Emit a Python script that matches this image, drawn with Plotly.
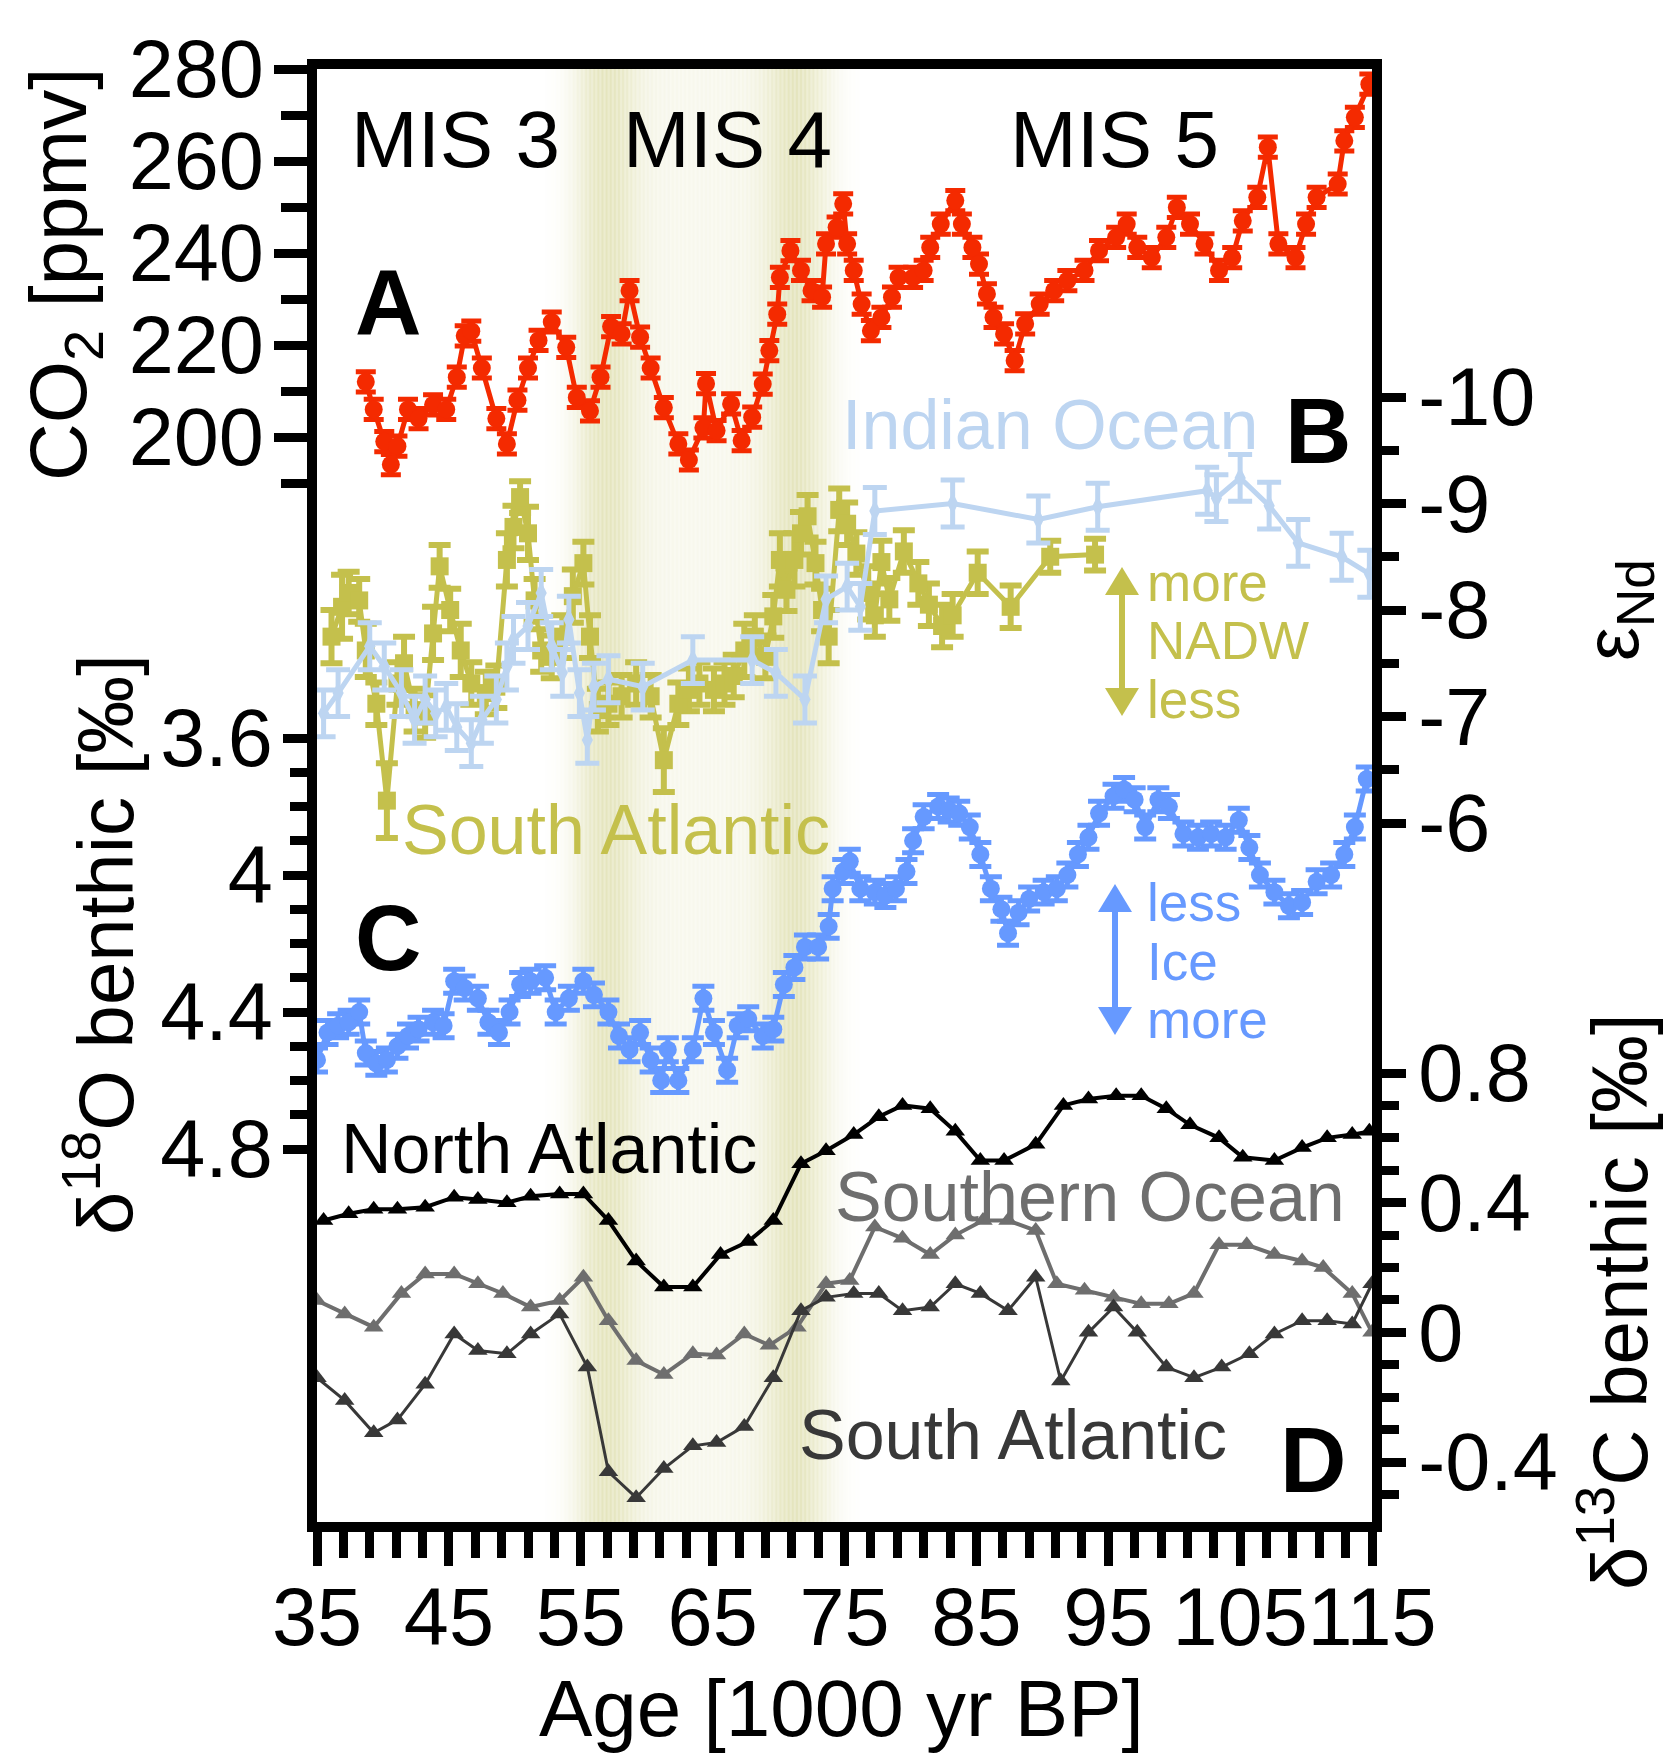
import plotly.graph_objects as go
import numpy as np

W, H = 1667, 1754

# ---------------- data ----------------
age_ticks = [35, 45, 55, 65, 75, 85, 95, 105, 115]

co2_age = [38.7, 39.3, 40.1, 40.6, 41.1, 41.9, 42.7, 43.8, 44.8, 45.6, 46.2, 46.7, 47.5, 48.6, 49.4,
           50.2, 51.0, 51.8, 52.8, 53.9, 54.7, 55.7, 56.5, 57.3, 58.1, 58.7, 59.5, 60.3, 61.3, 62.4,
           63.2, 64.3, 64.5, 65.3, 66.4, 67.2, 68.0, 68.8, 69.3, 69.9, 70.1, 70.9, 71.7, 72.5, 73.3,
           73.6, 74.4, 74.9, 75.2, 75.7, 76.3, 77.0, 77.8, 78.6, 79.1, 80.2, 81.0, 81.5, 82.3, 83.4,
           83.9, 84.7, 85.2, 85.8, 86.3, 87.1, 87.9, 88.7, 89.8, 90.9, 91.9, 93.2, 94.3, 95.6, 96.4,
           97.2, 98.3, 99.4, 100.2, 101.2, 102.3, 103.4, 104.4, 105.2, 106.3, 107.1, 107.9, 109.2,
           110.0, 110.8, 112.4, 112.9, 113.7, 114.8]
co2_ppmv = [212, 206, 199, 194, 198, 206, 204, 207, 206, 213, 222, 223, 215, 204, 198.5,
            208, 215, 221, 225, 219.5, 208.6, 205.7, 213, 224, 222.4, 231.8, 221.7, 215, 206.4, 198.5,
            195, 202, 211.6, 201.4, 207.2, 199.2, 204.3, 211.5, 218.8, 226.7, 234.7, 240.5, 236.2, 231.8, 230.4,
            242, 245.6, 250.7, 242, 236.2, 228.9, 223.1, 226, 230.4, 234.7, 234.7, 236.2, 241.2, 246.3, 251.4,
            246.3, 241.2, 237.6, 231.1, 226, 222.4, 216.6, 224.6, 228.9, 231.8, 234, 236.2, 240.5, 243.4, 246.3,
            241.2, 239, 243.4, 249.9, 246.3, 242, 236.2, 239, 247, 252.1, 263, 242, 239,
            246.3, 252.1, 255, 264.4, 269.5, 276.7]
co2_err = 2.2

nd_satl_age = [36.1, 36.9, 37.4, 38.2, 38.7, 39.5, 40.3, 41.1, 41.6, 42.4, 43.2, 43.8, 44.3, 45.1, 45.9,
               46.7, 47.8, 48.6, 49.4, 49.9, 50.4, 51.0, 51.5, 52.0, 52.8, 53.6, 54.4, 55.2, 55.7, 56.3,
               57.1, 58.1, 59.2, 60.3, 61.3, 62.4, 63.2, 64.0, 65.1, 65.9, 66.6, 67.4, 68.2, 69.0, 69.6,
               70.1, 70.6, 71.2, 71.7, 72.2, 72.8, 73.3, 73.8, 74.6, 75.2, 75.9, 76.8, 77.3, 77.8, 78.4,
               79.5, 80.6, 81.4, 82.4, 83.2, 85.1, 87.6, 90.6, 94.0]
nd_satl = [-7.75, -8.03, -8.16, -8.09, -7.62, -7.12, -6.21, -7.31, -7.50, -7.06,
           -7.00, -7.78, -8.41, -8.00, -7.62, -7.31, -7.22, -7.28, -8.47, -8.78,
           -9.06, -8.72, -8.09, -7.62, -7.56, -7.75, -8.13, -8.44, -7.75, -7.06,
           -7.12, -7.19, -7.31, -7.19, -6.59, -7.12, -7.25, -7.31, -7.25, -7.31,
           -7.38, -7.62, -7.75, -7.56, -7.94, -8.47, -8.19, -8.47, -8.72, -8.88,
           -8.44, -8.00, -7.75, -8.94, -8.81, -8.53, -8.16, -7.95, -8.45, -8.10,
           -8.55, -8.25, -8.05, -7.85, -7.95, -8.35, -8.03, -8.50, -8.52]
nd_satl_err = [0.25, 0.3, 0.2, 0.2, 0.25, 0.2, 0.35, 0.2, 0.25, 0.2,
               0.2, 0.25, 0.2, 0.2, 0.25, 0.2, 0.2, 0.2, 0.25, 0.2,
               0.15, 0.25, 0.2, 0.2, 0.2, 0.2, 0.25, 0.2, 0.2, 0.2,
               0.2, 0.2, 0.2, 0.2, 0.3, 0.2, 0.2, 0.2, 0.2, 0.2,
               0.2, 0.25, 0.2, 0.2, 0.2, 0.25, 0.2, 0.25, 0.2, 0.2,
               0.2, 0.2, 0.25, 0.2, 0.2, 0.2, 0.25, 0.2, 0.2, 0.2,
               0.2, 0.2, 0.2, 0.2, 0.2, 0.2, 0.2, 0.15, 0.15]

nd_ind_age = [35.5, 36.6, 39.0, 40.1, 41.4, 42.4, 43.2, 44.0, 44.8, 45.6, 46.7, 47.5, 48.6, 49.4, 49.9,
              51.0, 52.0, 52.8, 53.6, 54.1, 54.9, 55.5, 56.0, 57.1, 59.7, 63.5, 68.0, 69.8, 72.0, 73.6,
              75.2, 76.2, 77.3, 83.2, 89.7, 94.2, 102.5, 103.2, 105.0, 107.2, 109.4, 112.7, 114.8]
nd_ind = [-7.03, -7.22, -7.66, -7.47, -7.22, -6.97, -7.16, -7.03, -7.09, -6.90, -6.75, -6.97, -7.16, -7.47, -7.72,
          -7.85, -8.16, -7.66, -7.41, -7.91, -7.22, -6.78, -7.28, -7.35, -7.28, -7.53, -7.53, -7.41, -7.16, -8.10,
          -8.22, -8.03, -8.93, -9.00, -8.85, -8.97, -9.12, -9.05, -9.24, -8.98, -8.63, -8.50, -8.34]
nd_ind_err = 0.22

d18o_age = [35.0, 35.8, 36.6, 37.4, 38.2, 38.7, 39.5, 40.3, 41.1, 41.9, 42.7, 43.8, 44.6, 45.4, 46.2,
            47.2, 48.0, 48.8, 49.6, 50.4, 51.2, 52.3, 53.1, 54.1, 55.2, 56.0, 57.1, 57.9, 58.7, 59.5,
            60.3, 61.1, 61.6, 62.4, 63.5, 64.3, 65.1, 66.1, 66.9, 67.7, 68.8, 69.6, 70.4, 71.2, 72.0,
            73.0, 73.8, 74.1, 74.9, 75.4, 76.2, 77.3, 78.1, 78.9, 79.7, 80.2, 81.0, 82.1, 82.9, 83.7,
            84.5, 85.3, 86.1, 86.9, 87.4, 88.2, 89.0, 90.1, 91.1, 91.9, 92.7, 93.5, 94.3, 95.4, 96.2,
            97.0, 97.8, 98.8, 99.6, 100.7, 101.8, 102.8, 103.9, 104.9, 105.7, 106.5, 107.6, 108.7, 109.7,
            110.8, 111.9, 112.9, 113.7, 114.6]
d18o = [4.54, 4.46, 4.44, 4.43, 4.40, 4.52, 4.55, 4.54, 4.50, 4.47, 4.45, 4.43, 4.44, 4.31, 4.33,
        4.36, 4.43, 4.46, 4.40, 4.32, 4.31, 4.30, 4.40, 4.36, 4.31, 4.35, 4.40, 4.47, 4.51, 4.46,
        4.54, 4.60, 4.51, 4.60, 4.51, 4.36, 4.46, 4.57, 4.44, 4.42, 4.47, 4.45, 4.32, 4.27, 4.21,
        4.21, 4.15, 4.04, 3.99, 3.96, 4.04, 4.05, 4.06, 4.04, 3.99, 3.90, 3.83, 3.80, 3.81, 3.82,
        3.86, 3.94, 4.04, 4.10, 4.17, 4.11, 4.07, 4.05, 4.04, 4.00, 3.94, 3.89, 3.82, 3.77, 3.75,
        3.78, 3.86, 3.78, 3.80, 3.88, 3.89, 3.88, 3.89, 3.84, 3.92, 4.00, 4.05, 4.09, 4.08,
        4.02, 4.00, 3.94, 3.86, 3.72]
d18o_err = 0.035

d13c_natl_age = [35.5, 37.4, 39.3, 41.1, 43.2, 45.4, 47.2, 49.4, 51.2, 53.4, 55.2, 57.1, 59.2, 61.3, 63.5,
                 65.6, 67.7, 69.6, 71.7, 73.6, 75.7, 77.6, 79.4, 81.5, 83.4, 85.3, 87.1, 89.5, 91.6, 93.5,
                 95.6, 97.5, 99.4, 101.2, 103.4, 105.2, 107.6, 109.7, 111.6, 113.5, 114.8]
d13c_natl = [0.345, 0.366, 0.38, 0.38, 0.386, 0.417, 0.41, 0.40, 0.42, 0.427, 0.427, 0.345, 0.22, 0.14, 0.14,
             0.24, 0.28, 0.345, 0.52, 0.56, 0.61, 0.665, 0.70, 0.69, 0.62, 0.53, 0.53, 0.58, 0.70, 0.72,
             0.73, 0.73, 0.69, 0.64, 0.60, 0.54, 0.53, 0.57, 0.60, 0.61, 0.62]

d13c_so_age = [35.0, 37.1, 39.3, 41.4, 43.2, 45.4, 47.2, 49.1, 51.2, 53.4, 55.2, 57.1, 59.2, 61.3, 63.5,
               65.3, 67.4, 69.3, 71.4, 73.6, 75.4, 77.3, 79.4, 81.5, 83.4, 85.5, 87.4, 89.5, 91.1, 93.2,
               95.4, 97.5, 99.6, 101.5, 103.4, 105.5, 107.6, 109.7, 111.3, 113.5, 115.0]
d13c_so = [0.098, 0.057, 0.016, 0.12, 0.18, 0.18, 0.15, 0.12, 0.078, 0.098, 0.17, 0.036, -0.087, -0.13, -0.066,
           -0.07, -0.005, -0.04, 0.016, 0.15, 0.16, 0.325, 0.29, 0.24, 0.30, 0.345, 0.345, 0.314, 0.15, 0.13,
           0.108, 0.088, 0.088, 0.12, 0.27, 0.27, 0.24, 0.22, 0.20, 0.12, 0.0]

d13c_satl_age = [35.0, 37.1, 39.3, 41.1, 43.2, 45.4, 47.2, 49.4, 51.2, 53.4, 55.5, 57.1, 59.2, 61.3, 63.5,
                 65.3, 67.4, 69.6, 71.7, 73.6, 75.7, 77.6, 79.4, 81.5, 83.4, 85.3, 87.4, 89.5, 91.4, 93.5,
                 95.4, 97.2, 99.4, 101.5, 103.6, 105.7, 107.6, 109.7, 111.6, 113.5, 115.0]
d13c_satl = [-0.14, -0.21, -0.31, -0.27, -0.16, -0.005, -0.056, -0.066, -0.005, 0.057, -0.107, -0.43, -0.51, -0.42, -0.35,
             -0.34, -0.29, -0.14, 0.067, 0.108, 0.12, 0.12, 0.067, 0.078, 0.15, 0.12, 0.067, 0.17, -0.15, 0.0,
             0.078, 0.0, -0.107, -0.14, -0.107, -0.066, -0.005, 0.036, 0.036, 0.026, 0.15]

co2_ticks = [200, 220, 240, 260, 280]
co2_minor = [190, 210, 230, 250, 270]
nd_ticks = [-10, -9, -8, -7, -6]
nd_minor = [-9.5, -8.5, -7.5, -6.5]
o18_ticks = [3.6, 4.0, 4.4, 4.8]
o18_labels = ["3.6", "4", "4.4", "4.8"]
o18_minor = [3.7, 3.8, 3.9, 4.1, 4.2, 4.3, 4.5, 4.6, 4.7]
c13_ticks = [-0.4, 0, 0.4, 0.8]
c13_labels = ["-0.4", "0", "0.4", "0.8"]
c13_minor = [-0.5, -0.3, -0.2, -0.1, 0.1, 0.2, 0.3, 0.5, 0.6, 0.7]

# ---------------- geometry helpers ----------------
def px(x):
    return x / W

def py(y):
    return 1 - y / H

X0, X1 = 317, 1372      # plot frame, pixels
Y0, Y1 = 69, 1522

def yrange(v_ref, p_ref, ppu):
    return [v_ref + (p_ref - Y1) / ppu, v_ref + (p_ref - Y0) / ppu]

FONT = "Liberation Sans, Arial, Helvetica, sans-serif"
RED = "#f42a00"
OLIVE = "#c4c04c"
LBLUE = "#bdd5f1"
BLUE = "#6699ff"
GRAY = "#6e6e6e"
DGRAY = "#383838"

fig = go.Figure()

# MIS 4 shading (soft gradient built from thin slices)
edges = np.arange(52.0, 78.0, 0.1)
for a in edges:
    c = a + 0.05
    g1 = np.exp(-((c - 57.0) / 2.3) ** 2)
    g2 = np.exp(-((c - 71.2) / 2.3) ** 2)
    base = 0.28 / (1 + np.exp(-(c - 55.0) * 1.5)) / (1 + np.exp((c - 74.0) * 1.5))
    it = min(1.0, max(g1, g2) + base * (1 - max(g1, g2)))
    if it < 0.02:
        continue
    r = int(round(255 - (255 - 229) * it))
    g = int(round(255 - (255 - 229) * it))
    b = int(round(255 - (255 - 190) * it))
    fig.add_shape(type="rect", xref="x", yref="paper", x0=a, x1=a + 0.1,
                  y0=py(Y1), y1=py(Y0), fillcolor=f"rgb({r},{g},{b})",
                  line=dict(width=0), layer="below")

# traces
fig.add_trace(go.Scatter(
    x=co2_age, y=co2_ppmv, mode="lines+markers", yaxis="y",
    line=dict(color=RED, width=5), marker=dict(color=RED, size=18, symbol="circle"),
    error_y=dict(type="constant", value=co2_err, color=RED, thickness=5, width=10),
    showlegend=False))

fig.add_trace(go.Scatter(
    x=nd_satl_age, y=nd_satl, mode="lines+markers", yaxis="y2",
    line=dict(color=OLIVE, width=5), marker=dict(color=OLIVE, size=18, symbol="square"),
    error_y=dict(type="data", array=nd_satl_err, color=OLIVE, thickness=6, width=11),
    showlegend=False))

fig.add_trace(go.Scatter(
    x=nd_ind_age, y=nd_ind, mode="lines+markers", yaxis="y2",
    line=dict(color=LBLUE, width=5), marker=dict(color=LBLUE, size=16, symbol="diamond-tall"),
    error_y=dict(type="constant", value=nd_ind_err, color=LBLUE, thickness=5, width=12),
    showlegend=False))

fig.add_trace(go.Scatter(
    x=d18o_age, y=d18o, mode="lines+markers", yaxis="y3",
    line=dict(color=BLUE, width=5), marker=dict(color=BLUE, size=18, symbol="circle"),
    error_y=dict(type="constant", value=d18o_err, color=BLUE, thickness=5, width=11),
    showlegend=False))

for xs, ys, col, lw in [(d13c_so_age, d13c_so, GRAY, 4),
                        (d13c_satl_age, d13c_satl, DGRAY, 3),
                        (d13c_natl_age, d13c_natl, "black", 4)]:
    fig.add_trace(go.Scatter(
        x=xs, y=ys, mode="lines+markers", yaxis="y4",
        line=dict(color=col, width=lw), marker=dict(color=col, size=17, symbol="triangle-up"),
        showlegend=False))

# ---------------- axes ----------------
tickfont = dict(family=FONT, size=81, color="black")
common = dict(showgrid=False, zeroline=False, ticks="outside", tickcolor="black",
              tickwidth=9, tickfont=tickfont, automargin=False)

fig.update_layout(
    width=W, height=H, autosize=False,
    margin=dict(l=0, r=0, t=0, b=0, pad=0, autoexpand=False),
    paper_bgcolor="white", plot_bgcolor="white",
    font=dict(family=FONT, color="black"),
    xaxis=dict(domain=[px(X0), px(X1)], range=[35, 115], anchor="y",
               showline=True, linewidth=10, linecolor="black", mirror=True,
               tickmode="array", tickvals=age_ticks, ticktext=[str(v) for v in age_ticks],
               ticklen=34, ticklabelstandoff=-18, tickangle=0,
               minor=dict(tickmode="array", tickvals=[v for v in range(37, 115, 2)],
                          ticks="outside", ticklen=26, tickwidth=9, tickcolor="black"),
               **common),
    yaxis=dict(domain=[py(Y1), py(Y0)], range=yrange(280, 69, 4.6), anchor="x", side="left",
               showline=True, linewidth=10, linecolor="black", mirror=True,
               tickmode="array", tickvals=co2_ticks, ticktext=[str(v) for v in co2_ticks],
               ticklen=33, ticklabelstandoff=-6,
               minor=dict(tickmode="array", tickvals=co2_minor, ticks="outside",
                          ticklen=26, tickwidth=9, tickcolor="black"),
               **common),
    yaxis2=dict(overlaying="y", anchor="x", side="right", range=yrange(-10, 397, -106.5),
                showline=False, tickmode="array", tickvals=nd_ticks,
                ticktext=[str(v) for v in nd_ticks], ticklen=33, ticklabelstandoff=-4,
                minor=dict(tickmode="array", tickvals=nd_minor, ticks="outside",
                           ticklen=26, tickwidth=9, tickcolor="black"),
                **common),
    yaxis3=dict(overlaying="y", anchor="x", side="left", range=yrange(3.6, 738, -342.5),
                showline=False, tickmode="array", tickvals=o18_ticks, ticktext=o18_labels,
                ticklen=33, ticklabelstandoff=-6,
                minor=dict(tickmode="array", tickvals=o18_minor, ticks="outside",
                           ticklen=26, tickwidth=9, tickcolor="black"),
                **common),
    yaxis4=dict(overlaying="y", anchor="x", side="right", range=yrange(0.8, 1073, 324.2),
                showline=False, tickmode="array", tickvals=c13_ticks, ticktext=c13_labels,
                ticklen=33, ticklabelstandoff=-4,
                minor=dict(tickmode="array", tickvals=c13_minor, ticks="outside",
                           ticklen=26, tickwidth=9, tickcolor="black"),
                **common),
)

# ---------------- text ----------------
def txt(s, x, y, size, color="black", bold=False, angle=0, xanchor="center"):
    fig.add_annotation(text=(f"<b>{s}</b>" if bold else s), x=px(x), y=py(y),
                       xref="paper", yref="paper", showarrow=False, textangle=angle,
                       xanchor=xanchor, yanchor="middle",
                       font=dict(family=FONT, size=size, color=color))

txt("MIS 3", 455, 140, 80)
txt("MIS 4", 727, 140, 80)
txt("MIS 5", 1114, 140, 80)
txt("A", 388, 302, 92, bold=True)
txt("B", 1318, 431, 92, bold=True)
txt("C", 388, 938, 92, bold=True)
txt("D", 1313, 1460, 92, bold=True)
txt("Indian Ocean", 1050, 425, 70, LBLUE)
txt("South Atlantic", 616, 830, 70, OLIVE)
txt("North Atlantic", 549, 1149, 70, "black")
txt("Southern Ocean", 1090, 1197, 70, GRAY)
txt("South Atlantic", 1013, 1435, 70, DGRAY)
for s, yy in [("more", 582), ("NADW", 640), ("less", 699)]:
    txt(s, 1145, yy, 53, OLIVE, xanchor="left")
for s, yy in [("less", 902), ("Ice", 961), ("more", 1019)]:
    txt(s, 1145, yy, 53, BLUE, xanchor="left")

txt("CO<sub>2</sub> [ppmv]", 64, 275, 80, angle=-90)
txt("δ<sup>18</sup>O benthic [‰]", 100, 945, 78, angle=-90)
txt("ε<sub>Nd</sub>", 1617, 610, 76, angle=-90)
txt("δ<sup>13</sup>C benthic [‰]", 1614, 1302, 78, angle=-90)
txt("Age [1000 yr BP]", 841, 1708, 80)

# double-headed arrows drawn as shapes
def darrow(x, ytop, ybot, color, hw=17, hl=28, sw=6):
    fig.add_shape(type="line", xref="paper", yref="paper",
                  x0=px(x), x1=px(x), y0=py(ytop + hl - 2), y1=py(ybot - hl + 2),
                  line=dict(color=color, width=sw))
    for tip, base in [(ytop, ytop + hl), (ybot, ybot - hl)]:
        path = (f"M {px(x)} {py(tip)} L {px(x - hw)} {py(base)} "
                f"L {px(x + hw)} {py(base)} Z")
        fig.add_shape(type="path", xref="paper", yref="paper", path=path,
                      fillcolor=color, line=dict(width=0))

darrow(1122, 567, 716, OLIVE)
darrow(1115, 884, 1035, BLUE)

fig.write_html("out.html", config={"displayModeBar": False},
               post_script="document.body.style.margin='0px';")
